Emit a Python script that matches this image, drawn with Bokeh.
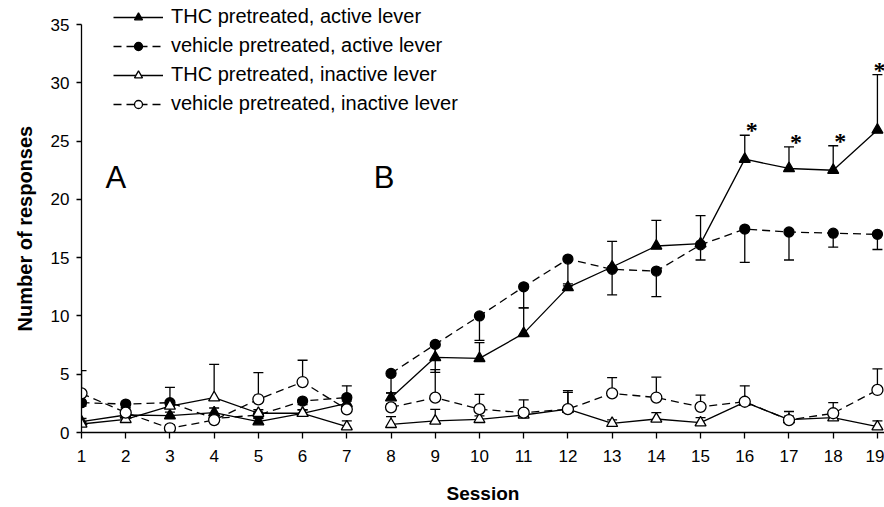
from bokeh.plotting import figure
from bokeh.models import (ColumnDataSource, Whisker, TeeHead, Legend, LegendItem,
                          Label, LabelSet, Range1d, FixedTicker)
from bokeh.embed import file_html
from bokeh.resources import INLINE

FONT = "Liberation Sans"

# ---------------- data ----------------
sessions_a = [1, 2, 3, 4, 5, 6, 7]
sessions_b = [8, 9, 10, 11, 12, 13, 14, 15, 16, 17, 18, 19]
x_ticks = [1, 2, 3, 4, 5, 6, 7, 8, 9, 10, 11, 12, 13, 14, 15, 16, 17, 18, 19]
y_ticks = [0, 5, 10, 15, 20, 25, 30, 35]

# THC pretreated, active lever (SEM drawn upward)
thc_act_a = [0.93, 1.5, 1.44, 1.7, 0.93, 1.65, 2.5]
thc_act_a_sem = [0.27, 0.3, 0.3, 0.4, 0.3, 0.3, 1.5]
thc_act_b = [2.99, 6.45, 6.36, 8.5, 12.45, 14.2, 16.0, 16.2, 23.45, 22.65, 22.5, 25.95]
thc_act_b_sem = [0.4, 1.0, 1.35, 2.2, 0.3, 2.2, 2.2, 2.4, 2.05, 1.85, 2.1, 4.75]

# vehicle pretreated, active lever (SEM drawn downward)
veh_act_a = [2.56, 2.44, 2.56, 1.2, 1.5, 2.7, 3.0]
veh_act_a_sem = [0.3, 0.3, 0.3, 0.3, 0.3, 0.3, 0.3]
veh_act_b = [5.07, 7.56, 10.0, 12.5, 14.88, 14.0, 13.85, 16.1, 17.45, 17.2, 17.1, 17.0]
veh_act_b_sem = [1.67, 2.4, 2.1, 1.8, 2.3, 2.2, 2.2, 1.3, 2.85, 2.4, 1.2, 1.3]

# THC pretreated, inactive lever (SEM drawn upward)
thc_inact_a = [0.73, 1.13, 2.27, 2.99, 1.65, 1.65, 0.5]
thc_inact_a_sem = [0.2, 0.2, 1.6, 2.85, 0.3, 0.3, 0.5]
thc_inact_b = [0.7, 0.99, 1.13, 1.5, 2.0, 0.79, 1.16, 0.84, 2.6, 1.1, 1.27, 0.5]
thc_inact_b_sem = [0.66, 1.0, 0.3, 0.4, 1.45, 0.3, 0.55, 0.43, 0.3, 0.3, 0.3, 0.5]

# vehicle pretreated, inactive lever (SEM drawn upward)
veh_inact_a = [3.36, 1.7, 0.36, 1.07, 2.85, 4.33, 1.99]
veh_inact_a_sem = [1.94, 0.3, 0.3, 0.3, 2.28, 1.87, 0.3]
veh_inact_b = [2.16, 2.99, 2.0, 1.7, 2.0, 3.36, 3.0, 2.2, 2.64, 1.07, 1.65, 3.65]
veh_inact_b_sem = [0.3, 2.4, 1.27, 1.1, 1.6, 1.34, 1.75, 1.0, 1.36, 0.73, 0.91, 1.8]

labels = ["THC pretreated, active lever",
          "vehicle pretreated, active lever",
          "THC pretreated, inactive lever",
          "vehicle pretreated, inactive lever"]

sig_sessions = [16, 17, 18, 19]

# ---------------- figure ----------------
p = figure(width=884, height=507,
           x_range=Range1d(1, 19.16), y_range=Range1d(0, 36.89),
           output_backend="svg", toolbar_location=None,
           min_border_left=81, min_border_right=0,
           min_border_top=2, min_border_bottom=75)
p.outline_line_color = None
p.background_fill_color = "white"
p.border_fill_color = "white"
p.xgrid.visible = False
p.ygrid.visible = False

LW = 1.3

for ax in (p.xaxis[0], p.yaxis[0]):
    ax.axis_line_color = "black"
    ax.axis_line_width = LW
    ax.major_tick_line_color = "black"
    ax.major_tick_line_width = LW
    ax.major_tick_in = 0
    ax.minor_tick_in = 0
    ax.minor_tick_out = 0
    ax.major_label_text_font = FONT
    ax.major_label_text_font_size = "17px"
    ax.major_label_text_color = "black"
    ax.axis_label_text_font = FONT
    ax.axis_label_text_font_style = "bold"
    ax.axis_label_text_color = "black"

p.xaxis.ticker = FixedTicker(ticks=x_ticks)
p.xaxis.major_tick_out = 6
p.xaxis.major_label_standoff = 11
p.xaxis.axis_label = "Session"
p.xaxis.axis_label_text_font_size = "19px"
p.xaxis.axis_label_standoff = 18

p.yaxis.ticker = FixedTicker(ticks=y_ticks)
p.yaxis.bounds = (0, 35)
p.yaxis.major_tick_out = 5
p.yaxis.major_label_standoff = 7
# trailing no-break spaces shift the centred title slightly down, as in the reference
p.yaxis.axis_label = "Number of responses" + "\u00a0" * 4
p.yaxis.axis_label_text_font_size = "20px"
p.yaxis.axis_label_standoff = 12


def add_series(xs, ys, sem, direction, marker, fill, dash, size):
    up = [y + s for y, s in zip(ys, sem)] if direction > 0 else list(ys)
    lo = list(ys) if direction > 0 else [y - s for y, s in zip(ys, sem)]
    src = ColumnDataSource(dict(x=xs, y=ys, upper=up, lower=lo))
    head = TeeHead(size=10, line_width=LW, line_color="black")
    w = Whisker(source=src, base="x", upper="upper", lower="lower",
                dimension="height", line_width=LW, line_color="black",
                upper_head=head if direction > 0 else None,
                lower_head=None if direction > 0 else head,
                level="underlay")
    p.add_layout(w)
    lr = p.line("x", "y", source=src, line_color="black", line_width=LW,
                line_dash=dash)
    sr = p.scatter("x", "y", source=src, marker=marker, size=size,
                   fill_color=fill, line_color="black", line_width=LW)
    return lr, sr


series = [
    (thc_act_a, thc_act_a_sem, thc_act_b, thc_act_b_sem, 1, "triangle", "black", "solid", 11),
    (veh_act_a, veh_act_a_sem, veh_act_b, veh_act_b_sem, -1, "circle", "black", "8 5", 10),
    (thc_inact_a, thc_inact_a_sem, thc_inact_b, thc_inact_b_sem, 1, "triangle", "white", "solid", 11),
    (veh_inact_a, veh_inact_a_sem, veh_inact_b, veh_inact_b_sem, 1, "circle", "white", "8 5", 11),
]

items = []
for (ya, sa, yb, sb, d, mk, fc, dash, sz), lab in zip(series, labels):
    la, ma = add_series(sessions_a, ya, sa, d, mk, fc, dash, sz)
    add_series(sessions_b, yb, sb, d, mk, fc, dash, sz)
    items.append(LegendItem(label=lab, renderers=[la, ma]))

legend = Legend(items=items, location=(32, 317), orientation="vertical",
                padding=0, margin=0, spacing=6,
                glyph_width=50, glyph_height=20, label_height=22,
                label_standoff=8,
                label_text_font=FONT, label_text_font_size="20px",
                label_text_color="black",
                border_line_color=None, background_fill_alpha=0)
p.add_layout(legend)

# significance stars above THC active upper error bars
star_y = [thc_act_b[sessions_b.index(s)] + thc_act_b_sem[sessions_b.index(s)]
          for s in sig_sessions]
# the last star sits against the right edge, so it is nudged less to the right
star_dx = [7 if s != x_ticks[-1] else 2 for s in sig_sessions]
star_src = ColumnDataSource(dict(x=sig_sessions, y=star_y, dx=star_dx,
                                 t=["*"] * len(sig_sessions)))
p.add_layout(LabelSet(x="x", y="y", text="t", source=star_src,
                      x_offset="dx", y_offset=5,
                      text_font=FONT, text_font_size="24px",
                      text_font_style="bold", text_align="center",
                      text_baseline="middle", text_color="black"))

# phase labels
p.add_layout(Label(x=1.54, y=21.9, text="A", text_font=FONT,
                   text_font_size="31px", text_baseline="alphabetic",
                   text_align="left", text_color="black"))
p.add_layout(Label(x=7.61, y=21.9, text="B", text_font=FONT,
                   text_font_size="31px", text_baseline="alphabetic",
                   text_align="left", text_color="black"))

open("out.html", "w").write(file_html(p, INLINE))
